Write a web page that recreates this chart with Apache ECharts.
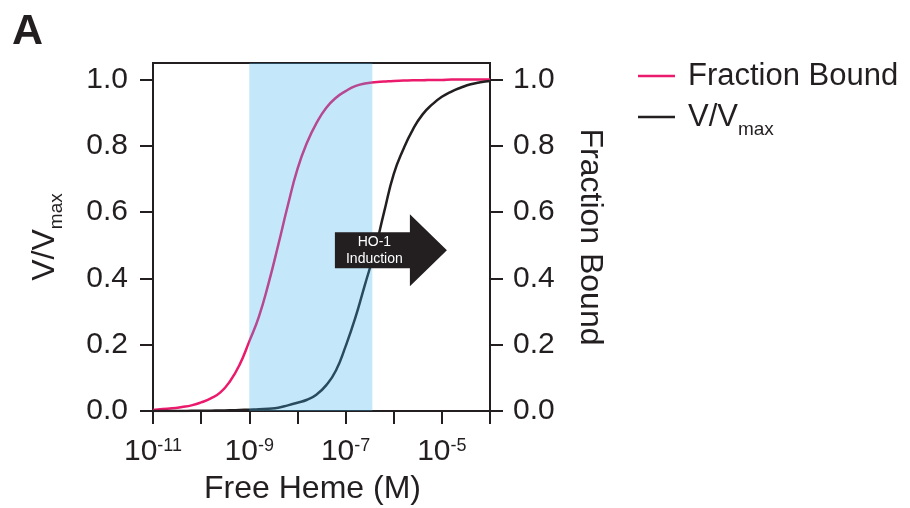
<!DOCTYPE html>
<html><head><meta charset="utf-8">
<script src="https://cdn.jsdelivr.net/npm/echarts@6/dist/echarts.min.js"></script>
<style>html,body{margin:0;padding:0;background:#fff}#c{width:910px;height:508px}</style>
</head><body><div id="c"></div>
<script>
const INK = '#231f20', PINK = '#ec1a6c', BAND = 'rgba(60,180,235,0.3)';
const FONT = "'Liberation Sans', Arial, Helvetica, sans-serif";

// log10(free heme, M) sample positions shared by both curves
const logHeme = [-11, -10.8, -10.6, -10.4, -10.2, -10, -9.8, -9.6, -9.4, -9.2, -9, -8.8, -8.6, -8.4, -8.2, -8, -7.8, -7.6, -7.4, -7.2, -7, -6.8, -6.6, -6.4, -6.2, -6, -5.8, -5.6, -5.4, -5.2, -5, -4.8, -4.6, -4.4, -4.2, -4];
// Fraction Bound (right axis)
const fracBound = [0.003, 0.006, 0.008, 0.012, 0.017, 0.026, 0.038, 0.056, 0.09, 0.14, 0.21, 0.285, 0.385, 0.50, 0.62, 0.73, 0.81, 0.87, 0.915, 0.945, 0.965, 0.98, 0.988, 0.992, 0.994, 0.996, 0.997, 0.998, 0.998, 0.999, 0.999, 1.0, 1.0, 1.0, 1.0, 1.0];
// V/Vmax (left axis)
const vVmax = [0, 0, 0, 0.0002, 0.0004, 0.0006, 0.001, 0.0015, 0.002, 0.003, 0.004, 0.005, 0.007, 0.01, 0.017, 0.025, 0.034, 0.05, 0.078, 0.122, 0.195, 0.28, 0.38, 0.48, 0.60, 0.715, 0.79, 0.85, 0.895, 0.925, 0.948, 0.964, 0.976, 0.986, 0.992, 0.996];
// shaded free-heme range (M)
const bandRange = [[1e-9, 3.6e-7]];
// arrow annotation anchor (left edge of box, vertical centre)
const arrowAnchor = [[6e-8, 0.485]];
const arrowLines = ['HO-1', 'Induction'];
const yTicks = [0, 0.2, 0.4, 0.6, 0.8, 1.0];
const xRange = [1e-11, 1e-4];

const toM = e => Math.pow(10, e);
const fracData = logHeme.map((e, i) => [toM(e), fracBound[i]]);
const vData = logHeme.map((e, i) => [toM(e), vVmax[i]]);

const yCommon = {
  type: 'value', min: 0, max: 1.05,
  axisLine: { show: true, lineStyle: { color: INK, width: 2 } },
  axisTick: { show: true, length: 13, customValues: yTicks, lineStyle: { color: INK, width: 2 } },
  axisLabel: { customValues: yTicks, fontSize: 30, color: INK, fontFamily: FONT, formatter: v => v.toFixed(1) },
  splitLine: { show: false }
};

const chart = echarts.init(document.getElementById('c'), null, { renderer: 'canvas' });
chart.setOption({
  animation: false,
  textStyle: { fontFamily: FONT },
  title: { text: 'A', left: 7, top: 6, textStyle: { fontSize: 43, fontWeight: 'bold', color: INK, fontFamily: FONT } },
  legend: {
    orient: 'vertical', left: 638, top: 61, padding: 0, itemWidth: 37, itemHeight: 2.5, itemGap: 10, icon: 'rect',
    data: [{ name: 'Fraction Bound', itemStyle: { color: PINK } }, { name: 'V/Vmax', itemStyle: { color: INK } }],
    formatter: n => n === 'V/Vmax' ? '{m|V/V}{s|max}' : '{m|' + n + '}',
    textStyle: {
      padding: [0, 0, 0, 8],
      rich: {
        m: { fontSize: 31, lineHeight: 30, verticalAlign: 'top', color: INK, fontFamily: FONT },
        s: { fontSize: 19, lineHeight: 20, padding: [18, 0, 0, 0], verticalAlign: 'top', color: INK, fontFamily: FONT }
      }
    }
  },
  grid: { left: 153, right: 420, top: 63, bottom: 97, outerBoundsMode: 'none', containLabel: false, show: true, borderColor: INK, borderWidth: 2, backgroundColor: 'transparent' },
  xAxis: {
    type: 'log', logBase: 10, min: xRange[0], max: xRange[1],
    name: 'Free Heme (M)', nameLocation: 'middle', nameGap: 62,
    nameTextStyle: { fontSize: 32, color: INK, fontFamily: FONT, padding: [0, 18, 0, 0] },
    axisLine: { lineStyle: { color: INK, width: 2 } },
    axisTick: { length: 13, lineStyle: { color: INK, width: 2 } },
    minorTick: { show: false }, splitLine: { show: false },
    axisLabel: {
      interval: 0, margin: 26,
      formatter: v => { const e = Math.round(Math.log10(v)); return (e % 2 !== 0) ? '{b|10}{s|' + e + '}' : ''; },
      rich: {
        b: { fontSize: 30, lineHeight: 30, color: INK, fontFamily: FONT },
        s: { fontSize: 18, lineHeight: 21, verticalAlign: 'top', color: INK, fontFamily: FONT }
      }
    }
  },
  yAxis: [
    Object.assign({}, yCommon, {
      position: 'left',
      name: '{m|V/V}{s|max}', nameLocation: 'middle', nameRotate: 90, nameGap: 94,
      nameTextStyle: {
        rich: {
          m: { fontSize: 32, lineHeight: 30, verticalAlign: 'top', color: INK, fontFamily: FONT },
          s: { fontSize: 19, lineHeight: 20, padding: [18, 0, 0, 0], verticalAlign: 'top', color: INK, fontFamily: FONT }
        }
      },
      axisLabel: Object.assign({}, yCommon.axisLabel, { margin: 25 })
    }),
    Object.assign({}, yCommon, {
      position: 'right',
      name: 'Fraction Bound', nameLocation: 'middle', nameRotate: -90, nameGap: 84,
      nameTextStyle: { fontSize: 32, color: INK, fontFamily: FONT },
      axisLabel: Object.assign({}, yCommon.axisLabel, { margin: 23 })
    })
  ],
  series: [
    {
      type: 'line', name: 'Fraction Bound', yAxisIndex: 1, data: fracData, z: 2,
      showSymbol: false, symbol: 'none', smooth: 0.5,
      lineStyle: { color: PINK, width: 2.5 }, itemStyle: { color: PINK }
    },
    {
      type: 'line', name: 'V/Vmax', yAxisIndex: 0, data: vData, z: 2,
      showSymbol: false, symbol: 'none', smooth: 0.5,
      lineStyle: { color: INK, width: 2.5 }, itemStyle: { color: INK }
    },
    {
      type: 'custom', name: 'band', yAxisIndex: 0, z: 3, silent: true, data: bandRange,
      renderItem: (params, api) => {
        const cs = params.coordSys;
        const x0 = api.coord([api.value(0), 0])[0];
        const x1 = api.coord([api.value(1), 0])[0];
        return { type: 'rect', shape: { x: x0, y: cs.y, width: x1 - x0, height: cs.height }, style: { fill: BAND } };
      }
    },
    {
      type: 'custom', name: 'arrow', yAxisIndex: 0, z: 4, silent: true, clip: false, data: arrowAnchor,
      renderItem: (params, api) => {
        const p = api.coord([api.value(0), api.value(1)]);
        const bw = 75, bh = 36, hl = 37, hh = 36;
        const x = p[0], y = p[1];
        return {
          type: 'group', children: [
            { type: 'polygon', shape: { points: [[x, y - bh / 2], [x + bw, y - bh / 2], [x + bw, y - hh], [x + bw + hl, y], [x + bw, y + hh], [x + bw, y + bh / 2], [x, y + bh / 2]] }, style: { fill: INK } },
            { type: 'text', x: x + bw / 2 + 2, y: y, style: { text: arrowLines.join('\n'), fill: '#fff', fontSize: 14, lineHeight: 17, align: 'center', verticalAlign: 'middle', fontFamily: FONT } }
          ]
        };
      }
    }
  ]
});
</script></body></html>
